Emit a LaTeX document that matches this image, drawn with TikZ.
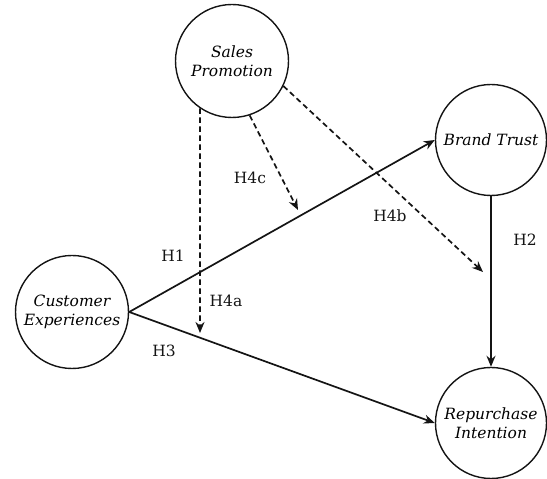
\documentclass[tikz,border=0pt]{standalone}
\usepackage{fontspec}
\setmainfont{DejaVu Serif}
\usepackage{xcolor}
\usetikzlibrary{arrows.meta, calc, positioning}
\definecolor{inkblack}{RGB}{20,20,20}

\begin{document}
\begin{tikzpicture}[x=1pt, y=1pt, >=Stealth,
    construct/.style={circle, draw=inkblack, line width=1.4pt, minimum size=113pt,
        inner sep=0pt, align=center, font=\fontsize{15.5}{19}\selectfont\itshape},
    hypo/.style={->, line width=1.7pt, inkblack, >={Stealth[length=11pt, width=9pt]}},
    moder/.style={hypo, dash pattern=on 5.5pt off 3.5pt},
    hlabel/.style={font=\fontsize{15.5}{18}\selectfont, inkblack}]
                \useasboundingbox (0,0) rectangle (547,479);

                % Constructs
                \node[construct] (sp) at (232,418) {Sales\\Promotion};
                \node[construct] (ce) at (72,167) {Customer\\Experiences};
                \node[construct, minimum size=111pt] (bt) at (491,339) {Brand Trust};
                \node[construct, minimum size=111pt] (ri) at (491,56) {Repurchase\\Intention};

                % Direct paths
                \draw[hypo] (ce.east) -- (bt.west);
                \draw[hypo] (ce.east) -- (ri.west);
                \draw[hypo] (bt) -- (ri);

                % Moderating paths
                \coordinate (h4aend) at (200,146);
                \coordinate (h4cend) at (298,269);
                \coordinate (h4bend) at (483,207);
                \draw[moder] (sp.236) -- (h4aend);
                \draw[moder] (sp.288) -- (h4cend);
                \draw[moder] (sp.334) -- (h4bend);

                % Path labels
                \node[hlabel] (h1) at (173,223) {H1};
                \node[hlabel] (h2) at (525,239) {H2};
                \node[hlabel] (h3) at (164,128) {H3};
                \node[hlabel] (h4a) at (226,178) {H4a};
                \node[hlabel] (h4b) at (390,263) {H4b};
                \node[hlabel] (h4c) at (250,301) {H4c};
            \end{tikzpicture}
\end{document}
